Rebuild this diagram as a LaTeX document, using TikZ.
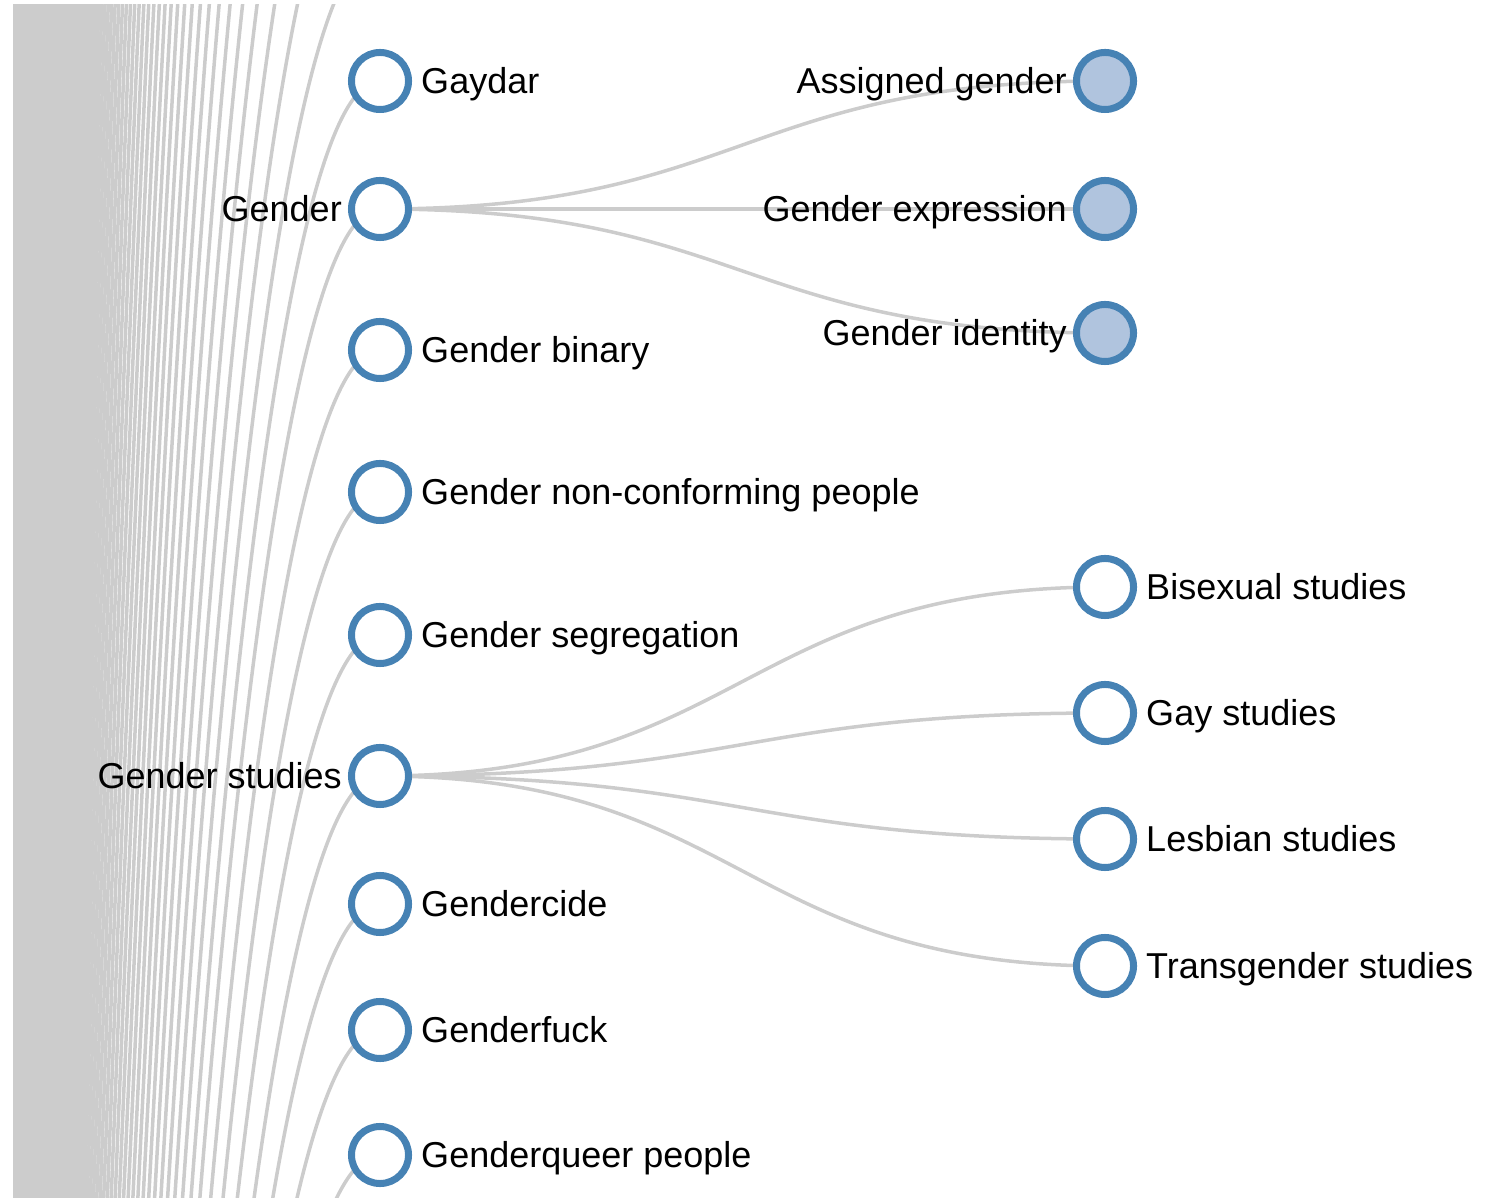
\documentclass[tikz,border=0pt]{standalone}
\usepackage{fontspec}
\setmainfont{Liberation Sans}
\usetikzlibrary{backgrounds}
\usetikzlibrary{calc}
\definecolor{steelblue}{RGB}{70,130,180}
\definecolor{lightsteelblue}{RGB}{176,196,222}
\definecolor{linkgray}{RGB}{204,204,204}

\tikzset{
  topic/.style={circle, draw=steelblue, fill=white, line width=0.07cm,
    minimum size=0.57cm, inner sep=0pt},
  tag/.style={font=\fontsize{10.24pt}{12pt}\selectfont, inner sep=0pt,
    text height=0.252cm, text depth=0pt},
  leafnode/.style={topic, label={[tag, label distance=0.085cm]right:#1}},
  parentnode/.style={topic, label={[tag, label distance=0.055cm]left:#1}},
  foldednode/.style={topic, fill=lightsteelblue,
    label={[tag, label distance=0.055cm]left:#1}},
  link/.style={draw=linkgray, line width=0.035cm},
  diagonal/.style={to path={.. controls ($(\tikztostart)!0.5!(\tikztotarget |- \tikztostart)$)
    and ($(\tikztostart |- \tikztotarget)!0.5!(\tikztotarget)$) .. (\tikztotarget)}}
}

\begin{document}
\begin{tikzpicture}[x=0.01cm, y=-0.01cm]
  \useasboundingbox (0,0) rectangle (1494,1198);

  % first level
  \node[leafnode=Gaydar] (gaydar) at (380,81) {};
  \node[parentnode=Gender] (gender) at (380,209) {};
  \node[leafnode=Gender binary] (binary) at (380,350) {};
  \node[leafnode=Gender non-conforming people] (nonconforming) at (380,492) {};
  \node[leafnode=Gender segregation] (segregation) at (380,635) {};
  \node[parentnode=Gender studies] (studies) at (380,776) {};
  \node[leafnode=Gendercide] (gendercide) at (380,904) {};
  \node[leafnode=Genderfuck] (genderfuck) at (380,1030) {};
  \node[leafnode=Genderqueer people] (genderqueer) at (380,1155) {};

  % second level
  \node[foldednode=Assigned gender] (assigned) at (1105,81) {};
  \node[foldednode=Gender expression] (expression) at (1105,209) {};
  \node[foldednode=Gender identity] (identity) at (1105,333) {};
  \node[leafnode=Bisexual studies] (bisexual) at (1105,587) {};
  \node[leafnode=Gay studies] (gay) at (1105,713) {};
  \node[leafnode=Lesbian studies] (lesbian) at (1105,839) {};
  \node[leafnode=Transgender studies] (transgender) at (1105,966) {};

  % root lies far below the page
  \coordinate (lgbt) at (-345,9681);

  \begin{pgfonlayer}{background}
    \begin{scope}
      \clip (13,5) rectangle (1494,1198);
      \foreach \k in {1,...,80} {
        \coordinate (above\k) at (380,{81-133*\k});
        \draw[link] (lgbt) to[diagonal] (above\k);
      }
      \foreach \t in {gaydar,gender,binary,nonconforming,segregation,studies,gendercide,genderfuck,genderqueer} {
        \draw[link] (lgbt) to[diagonal] (\t.center);
      }
      \foreach \t in {assigned,expression,identity} {
        \draw[link] (gender.center) to[diagonal] (\t.center);
      }
      \foreach \t in {bisexual,gay,lesbian,transgender} {
        \draw[link] (studies.center) to[diagonal] (\t.center);
      }
    \end{scope}
  \end{pgfonlayer}
\end{tikzpicture}
\end{document}
